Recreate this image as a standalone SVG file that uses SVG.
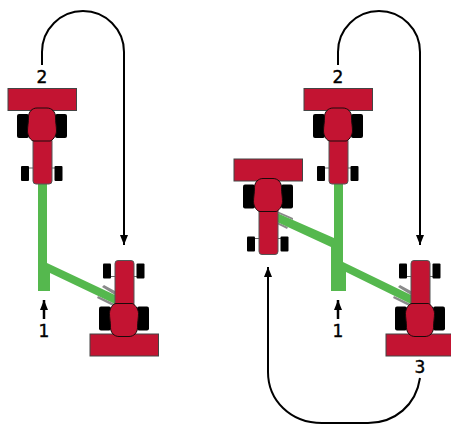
<svg xmlns="http://www.w3.org/2000/svg" width="451" height="425" viewBox="0 0 451 425">
<style>
text{font-family:"DejaVu Sans",sans-serif;font-size:17px;fill:#000;stroke:#000;stroke-width:.4;text-anchor:middle}
.red{fill:#c31432;stroke:#1a0a0a;stroke-width:1}
.body{fill:#c31432;stroke:#555;stroke-width:1}
.bar{fill:#c31432;stroke:#444;stroke-width:1}
.wh{fill:#000}
.ax{stroke:#666;stroke-width:1;fill:none}
.g{fill:#55b84e}
.h{fill:#8a8a8a}
.c{fill:none;stroke:#000;stroke-width:2}
.s{fill:none;stroke:#000;stroke-width:2.500}
</style>
<defs>
<marker id="a" markerUnits="userSpaceOnUse" markerWidth="12" markerHeight="10" refX="10" refY="4.500" orient="auto"><path d="M0 0.500L10 4.500L0 8.500Z" fill="#000"/></marker>
<g id="t">
<path class="ax" d="M29 168H55"/>
<rect class="wh" x="17" y="114" width="12" height="24" rx="2"/>
<rect class="wh" x="55" y="114" width="12" height="24" rx="2"/>
<rect class="wh" x="21" y="166" width="8" height="15" rx="1"/>
<rect class="wh" x="54.500" y="166" width="8" height="15" rx="1"/>
<rect class="body" x="33" y="138" width="19" height="46" rx="3"/>
<rect class="bar" x="8" y="88.500" width="68.500" height="22"/>
<path class="red" d="M37 108H47C52 108 55.500 112 55.500 117C55.500 122 56.500 127 56.500 131C56.500 136 52 141 50 141H34C31 141 27.500 136 27.500 131C27.500 127 28.500 122 28.500 117C28.500 112 32 108 37 108Z"/>
</g>
</defs>
<g id="implements">
<path class="h" d="M102 287L104 285L115 291V295ZM98 296L115 304V307L97 298Z"/>
<path class="g" d="M38 184H47V263L115 295V304L50 273V291H38Z"/>
<path class="h" d="M398 287L400 285L411 291V295ZM394 296L411 304V307L393 298Z"/>
<path class="h" d="M277 211L293 218L293 220L277 213ZM277 222L288 227L287 229L277 224Z"/>
<path class="g" d="M334 184H343V262L411 295V304L346 272V291H331V247L277 222V213L334 238Z"/>
</g>
<g id="tractor-1-top"><use href="#t"/></g>
<g id="tractor-1-bottom"><use href="#t" transform="translate(82 444.500) scale(1 -1)"/></g>
<g id="tractor-2-top"><use href="#t" x="296"/></g>
<g id="tractor-2-left"><use href="#t" x="226" y="70.500"/></g>
<g id="tractor-2-bottom"><use href="#t" transform="translate(378 444.500) scale(1 -1)"/></g>
<g id="connectors">
<path class="c" marker-end="url(#a)" d="M42 65V52A41 41 0 0 1 124 52V245"/>
<path class="c" marker-end="url(#a)" d="M338 65V52A41 41 0 0 1 420 52V245"/>
<path class="c" marker-end="url(#a)" d="M420 378C416 405 395 423 368 423H322C290 423 268 400 268 372V267"/>
<path class="s" marker-end="url(#a)" d="M44 319V300"/>
<path class="s" marker-end="url(#a)" d="M338 319V300"/>
</g>
<g id="labels">
<text x="42" y="83">2</text>
<text x="44" y="336.500">1</text>
<text x="338" y="83">2</text>
<text x="338" y="336.500">1</text>
<text x="420" y="373">3</text>
</g>
</svg>
